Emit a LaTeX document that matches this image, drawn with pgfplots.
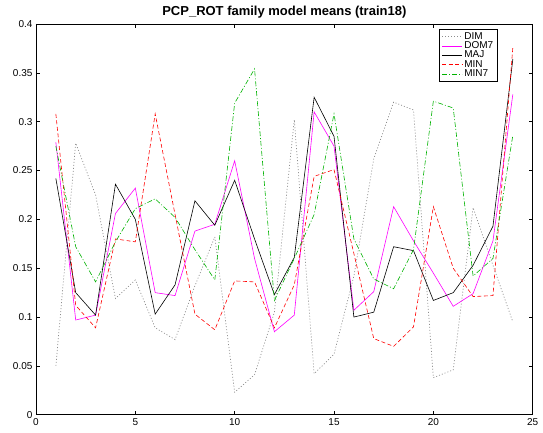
\documentclass[border=0pt]{standalone}
\usepackage{pgfplots}
\pgfplotsset{compat=1.18}
\usepackage{pgfplotstable}
\usepackage{fontspec}
\setmainfont{Liberation Sans}
\definecolor{dimgray}{rgb}{0.55,0.55,0.55}
\definecolor{mingreen}{rgb}{0,0.7,0}
\definecolor{dommag}{rgb}{1,0,1}
\definecolor{minred}{rgb}{1,0,0}
\pgfplotstableread{
x DIM DOM7 MAJ MIN MIN7
1 0.050 0.279 0.242 0.308 0.275
2 0.278 0.097 0.125 0.112 0.172
3 0.225 0.102 0.102 0.089 0.136
4 0.119 0.206 0.236 0.180 0.177
5 0.138 0.232 0.200 0.177 0.211
6 0.089 0.125 0.103 0.308 0.221
7 0.077 0.122 0.133 0.205 0.202
8 0.132 0.188 0.219 0.103 0.169
9 0.182 0.195 0.194 0.087 0.138
10 0.023 0.260 0.240 0.137 0.319
11 0.041 0.160 0.180 0.136 0.354
12 0.105 0.085 0.123 0.089 0.117
13 0.302 0.102 0.161 0.133 0.160
14 0.042 0.310 0.325 0.244 0.205
15 0.062 0.275 0.285 0.251 0.308
16 0.142 0.107 0.100 0.165 0.180
17 0.262 0.126 0.105 0.078 0.139
18 0.320 0.213 0.172 0.070 0.129
19 0.312 0.178 0.168 0.090 0.169
20 0.038 0.145 0.117 0.213 0.321
21 0.046 0.111 0.125 0.150 0.314
22 0.212 0.124 0.153 0.121 0.142
23 0.153 0.178 0.193 0.122 0.160
24 0.095 0.328 0.364 0.376 0.286
}\datatable
\begin{document}
\begin{tikzpicture}
\begin{axis}[
  scale only axis,
  width=497pt, height=391pt,
  xmin=0, xmax=25, ymin=0, ymax=0.4,
  xtick={0,5,10,15,20,25},
  ytick={0,0.05,0.1,0.15,0.2,0.25,0.3,0.35,0.4},
  scaled y ticks=false,
  yticklabel style={/pgf/number format/fixed, /pgf/number format/precision=2},
  /pgf/number format/assume math mode=true,
  tick label style={font=\fontsize{10}{11}\selectfont},
  tick align=inside,
  major tick length=4pt,
  axis line style={line width=0.8pt},
  every tick/.style={black, line width=0.6pt},
  title={\bfseries PCP\_ROT family model means (train18)},
  title style={font=\fontsize{13}{15}\selectfont, yshift=-4pt},
  legend style={at={(0.929,0.987)}, anchor=north east, font=\fontsize{10}{10}\selectfont,
    inner xsep=2pt, inner ysep=1pt, row sep=-3pt},
  legend cell align=left,
  legend image code/.code={\draw[mark repeat=2,mark phase=2,#1] plot coordinates {(0pt,0pt) (10pt,0pt) (20pt,0pt)};},
]
\addplot[color=dimgray, line width=0.7pt, dash pattern=on 1pt off 2pt] table[x=x,y=DIM]{\datatable};
\addlegendentry{DIM}
\addplot[color=dommag, line width=0.6pt] table[x=x,y=DOM7]{\datatable};
\addlegendentry{DOM7}
\addplot[color=black, line width=0.6pt] table[x=x,y=MAJ]{\datatable};
\addlegendentry{MAJ}
\addplot[color=minred, line width=0.6pt, dash pattern=on 4pt off 2.5pt] table[x=x,y=MIN]{\datatable};
\addlegendentry{MIN}
\addplot[color=mingreen, line width=0.6pt, dash pattern=on 5pt off 2pt on 1pt off 2pt] table[x=x,y=MIN7]{\datatable};
\addlegendentry{MIN7}
\end{axis}
\useasboundingbox ([shift={(-36pt,-18pt)}]current axis.south west) rectangle ([shift={(10.3pt,24pt)}]current axis.north east);
\end{tikzpicture}
\end{document}
